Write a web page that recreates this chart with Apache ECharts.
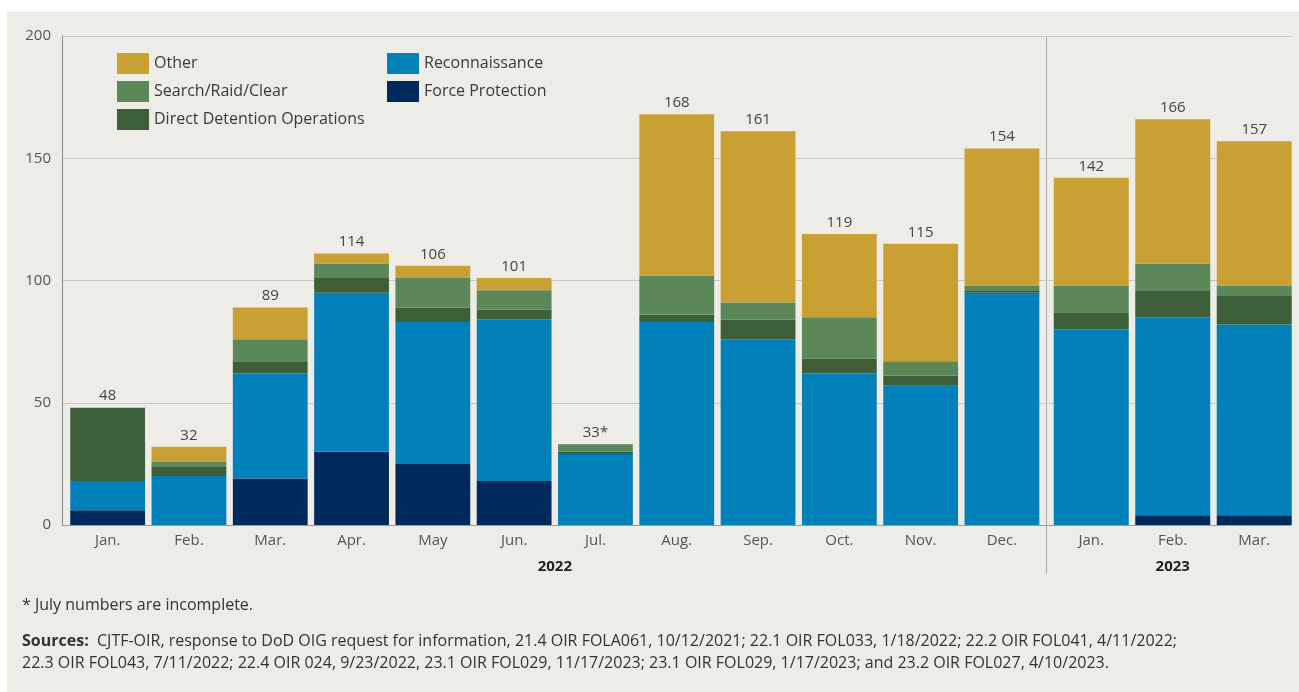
<!DOCTYPE html>
<html>
<head>
<meta charset="utf-8">
<script src="https://cdn.jsdelivr.net/npm/echarts@6/dist/echarts.min.js"></script>
<style>
  html, body { margin: 0; padding: 0; background: #fff; }
  #main {
    width: 1299px; height: 692px;
    background:
      linear-gradient(#fff, #fff) left top / 100% 11px no-repeat,
      linear-gradient(#fff, #fff) left top / 7px 100% no-repeat,
      #edece6;
  }
</style>
</head>
<body>
<div id="main"></div>
<script>
// months, 2022 then 2023
var months2022 = ['Jan.', 'Feb.', 'Mar.', 'Apr.', 'May', 'Jun.', 'Jul.', 'Aug.', 'Sep.', 'Oct.', 'Nov.', 'Dec.'];
var months2023 = ['Jan.', 'Feb.', 'Mar.'];

// operations per month (Jan 2022 .. Mar 2023)
var forceProtection = [6, 0, 19, 30, 25, 18, 0, 0, 0, 0, 0, 0, 0, 4, 4];
var reconnaissance  = [12, 20, 43, 65, 58, 66, 29, 83, 76, 62, 57, 95, 80, 81, 78];
var directDetention = [30, 4, 5, 6, 6, 4, 1, 3, 8, 6, 4, 1, 7, 11, 12];
var searchRaidClear = [0, 2, 9, 6, 12, 8, 3, 16, 7, 17, 6, 2, 11, 11, 4];
var other           = [0, 6, 13, 4, 5, 5, 0, 66, 70, 34, 48, 56, 44, 59, 59];
var totals = ['48', '32', '89', '114', '106', '101', '33*', '168', '161', '119', '115', '154', '142', '166', '157'];

var yTicks = { min: 0, max: 200, interval: 50 };

var FONT = '"Open Sans", sans-serif';
var colors = {
  'Other': '#c9a034',
  'Reconnaissance': '#0280ba',
  'Search/Raid/Clear': '#5b8759',
  'Direct Detention Operations': '#3c5f3a',
  'Force Protection': '#002a5c'
};

var chart = echarts.init(document.getElementById('main'));

// stacking order from the bottom up
var layers = [
  ['Force Protection', forceProtection],
  ['Reconnaissance', reconnaissance],
  ['Direct Detention Operations', directDetention],
  ['Search/Raid/Clear', searchRaidClear],
  ['Other', other]
];

var series = [];
[[1, 0, 12], [2, 12, 15]].forEach(function (g) {
  var idx = g[0], from = g[1], to = g[2];
  layers.forEach(function (layer, i) {
    var s = {
      name: layer[0],
      type: 'bar',
      stack: 'ops' + idx,
      xAxisIndex: idx,
      yAxisIndex: idx,
      barCategoryGap: '8%',
      itemStyle: { color: colors[layer[0]] },
      data: layer[1].slice(from, to)
    };
    if (i === layers.length - 1) {
      s.label = {
        show: true,
        position: 'top',
        distance: 4,
        color: '#444',
        fontFamily: FONT,
        fontSize: 15,
        formatter: function (p) { return totals[from + p.dataIndex]; }
      };
    }
    series.push(s);
  });
});

var monthLabel = { color: '#555', fontFamily: FONT, fontSize: 15, margin: 8 };
var yearName = { color: '#222', fontFamily: FONT, fontSize: 15, fontWeight: 'bold' };
var legendText = { color: '#3a3a3a', fontFamily: FONT, fontSize: 16 };

var option = {
  animation: false,
  legend: [
    {
      left: 117, top: 53, orient: 'vertical', itemGap: 7, padding: 0,
      itemWidth: 32, itemHeight: 21, icon: 'rect',
      textStyle: legendText,
      data: ['Other', 'Search/Raid/Clear', 'Direct Detention Operations']
    },
    {
      left: 387, top: 53, orient: 'vertical', itemGap: 7, padding: 0,
      itemWidth: 32, itemHeight: 21, icon: 'rect',
      textStyle: legendText,
      data: ['Reconnaissance', 'Force Protection']
    }
  ],
  grid: [
    { left: 62, right: 8, top: 36, bottom: 167 },
    { left: 67, width: 975.6, top: 36, bottom: 167 },
    { left: 1050.5, width: 244.5, top: 36, bottom: 167 }
  ],
  xAxis: [
    {
      gridIndex: 0, type: 'value', min: 0, max: 1,
      axisLine: { show: true, lineStyle: { color: '#9a9a9a' } },
      axisTick: { show: false }, axisLabel: { show: false }, splitLine: { show: false }
    },
    {
      gridIndex: 1, type: 'category', data: months2022,
      axisLine: { show: false }, axisTick: { show: false },
      axisLabel: monthLabel,
      name: '2022', nameLocation: 'middle', nameGap: 34, nameTextStyle: yearName
    },
    {
      gridIndex: 2, type: 'category', data: months2023,
      axisLine: { show: false }, axisTick: { show: false },
      axisLabel: monthLabel,
      name: '2023', nameLocation: 'middle', nameGap: 34, nameTextStyle: yearName
    }
  ],
  yAxis: [
    {
      gridIndex: 0, type: 'value', min: yTicks.min, max: yTicks.max, interval: yTicks.interval,
      axisLine: { show: true, lineStyle: { color: '#8a8a8a' } },
      axisTick: { show: false },
      axisLabel: { color: '#555', fontFamily: FONT, fontSize: 15, margin: 11 },
      splitLine: { lineStyle: { color: '#c8c8c4' } }
    },
    { gridIndex: 1, type: 'value', min: yTicks.min, max: yTicks.max, show: false },
    { gridIndex: 2, type: 'value', min: yTicks.min, max: yTicks.max, show: false }
  ],
  graphic: [
    {
      type: 'line', silent: true,
      shape: { x1: 1046.5, y1: 36, x2: 1046.5, y2: 574 },
      style: { stroke: '#a8a8a8', lineWidth: 1 }
    },
    {
      type: 'text', left: 22, top: 597,
      style: { text: '* July numbers are incomplete.', fill: '#333', font: '16px ' + FONT }
    },
    {
      type: 'text', left: 22, top: 630,
      style: {
        text: '{b|Sources:}  CJTF-OIR, response to DoD OIG request for information, 21.4 OIR FOLA061, 10/12/2021; 22.1 OIR FOL033, 1/18/2022; 22.2 OIR FOL041, 4/11/2022;\n' +
              '22.3 OIR FOL043, 7/11/2022; 22.4 OIR 024, 9/23/2022, 23.1 OIR FOL029, 11/17/2023; 23.1 OIR FOL029, 1/17/2023; and 23.2 OIR FOL027, 4/10/2023.',
        fill: '#333', font: '16px ' + FONT, lineHeight: 22,
        rich: { b: { fontWeight: 'bold', fill: '#333', fontFamily: FONT, fontSize: 16, lineHeight: 22 } }
      }
    }
  ],
  series: series
};

chart.setOption(option);
</script>
</body>
</html>
